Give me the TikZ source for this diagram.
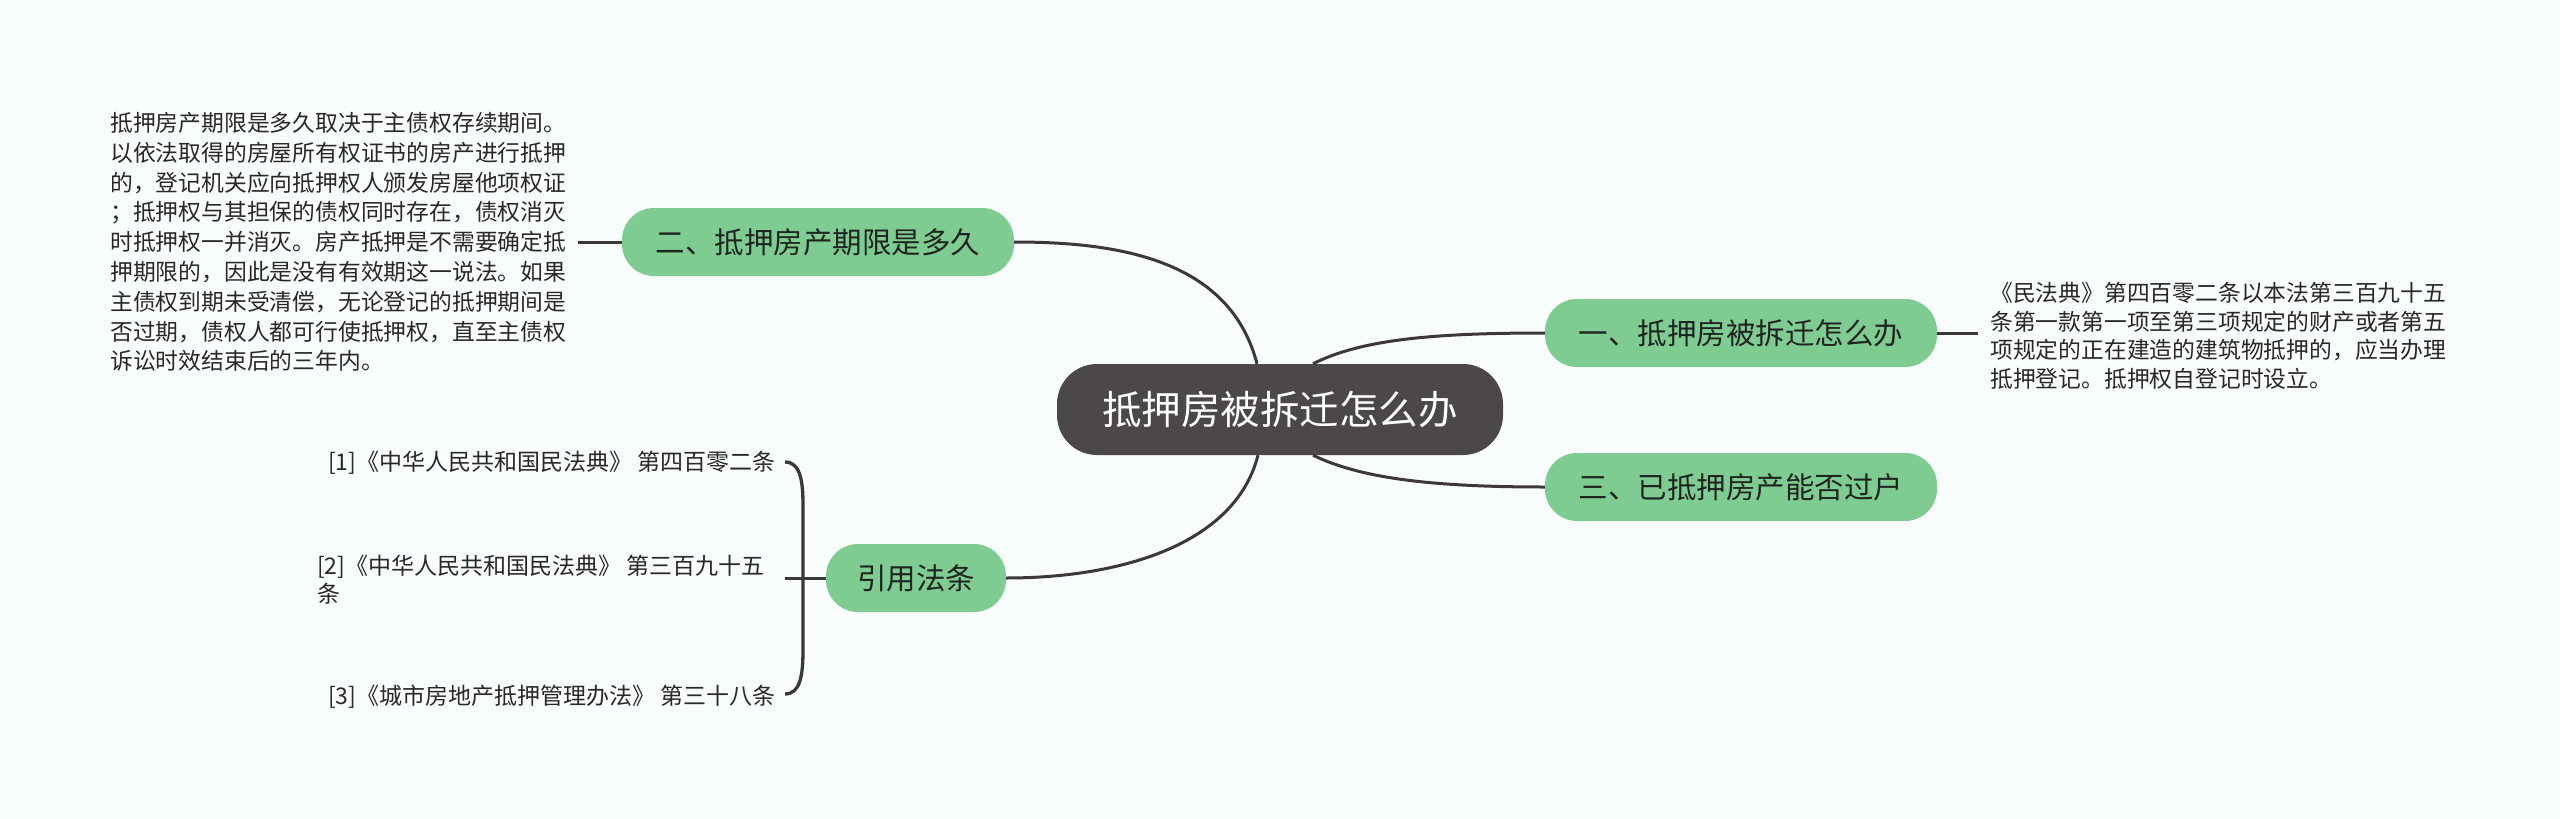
\documentclass[tikz,border=0pt]{standalone}
\usepackage{fontspec}
\setmainfont{Noto Sans CJK SC}
\definecolor{bgc}{RGB}{249,252,252}
\definecolor{greenc}{RGB}{127,204,146}
\definecolor{centerc}{RGB}{77,72,72}
\definecolor{linec}{RGB}{60,56,56}
\definecolor{darktext}{RGB}{30,36,32}
\definecolor{bodytext}{RGB}{40,40,40}
\begin{document}
\begin{tikzpicture}[x=1pt,y=-1pt,
  conn/.style={draw=linec,line width=3pt},
  topic/.style={fill=greenc,rounded corners=32pt,minimum width=392pt,minimum height=68pt,inner sep=0pt,text=darktext,font=\fontsize{29.5}{35}\selectfont},
  para/.style={align=left,inner sep=0pt,text=bodytext,anchor=north west},
  cite/.style={align=left,inner sep=0pt,text=bodytext,font=\fontsize{23}{28}\selectfont}]
\fill[bgc] (0,0) rectangle (2560,819);
\useasboundingbox (0,0) rectangle (2560,819);
\node[fill=centerc, rounded corners=40pt, minimum width=446pt, minimum height=91pt, inner sep=0pt, text=white, font=\fontsize{39.5}{45}\selectfont] (c) at (1280,409.5) {抵押房被拆迁怎么办};
\node[topic] (t1) at (1741,333) {一、抵押房被拆迁怎么办};
\node[topic] (t2) at (818,242) {二、抵押房产期限是多久};
\node[topic] (t3) at (1741,487) {三、已抵押房产能否过户};
\node[topic, minimum width=180pt] (t4) at (916,578) {引用法条};
\node[para, font=\fontsize{22.8}{29.8}\selectfont] (p2) at (110,112) {抵押房产期限是多久取决于主债权存续期间。\\以依法取得的房屋所有权证书的房产进行抵押\\的，登记机关应向抵押权人颁发房屋他项权证\\；抵押权与其担保的债权同时存在，债权消灭\\时抵押权一并消灭。房产抵押是不需要确定抵\\押期限的，因此是没有有效期这一说法。如果\\主债权到期未受清偿，无论登记的抵押期间是\\否过期，债权人都可行使抵押权，直至主债权\\诉讼时效结束后的三年内。};
\node[para, font=\fontsize{22.8}{28.7}\selectfont] (p1) at (1990,282) {《民法典》第四百零二条以本法第三百九十五\\条第一款第一项至第三项规定的财产或者第五\\项规定的正在建造的建筑物抵押的，应当办理\\抵押登记。抵押权自登记时设立。};
\node[cite, anchor=west] (r1) at (328,463) {[1]《中华人民共和国民法典》 第四百零二条};
\node[cite, anchor=north west] (r2) at (317,555) {[2]《中华人民共和国民法典》 第三百九十五\\条};
\node[cite, anchor=west] (r3) at (328,697) {[3]《城市房地产抵押管理办法》 第三十八条};
\draw[conn] ([xshift=-23pt]c.north) .. controls (1230,260) and (1120,242) .. (t2.east);
\draw[conn] ([xshift=-22pt]c.south) .. controls (1235,545) and (1120,578) .. (t4.east);
\draw[conn] ([xshift=33pt]c.north) .. controls (1360,340) and (1430,333) .. (t1.west);
\draw[conn] ([xshift=33pt]c.south) .. controls (1360,478) and (1430,487) .. (t3.west);
\coordinate (pl) at (578,242);
\draw[conn] (pl) -- (t2.west);
\coordinate (pr) at (1978,333);
\draw[conn] (t1.east) -- (pr);
\coordinate (b1) at (785,462);
\coordinate (b3) at (785,694);
\coordinate (bm) at (785,578);
\draw[conn, line width=3.3pt] (b1) .. controls (800,462) and (803,480) .. (803,505) -- (803,650) .. controls (803,676) and (800,694) .. (b3);
\draw[conn] (bm) -- (t4.west);
\end{tikzpicture}
\end{document}
